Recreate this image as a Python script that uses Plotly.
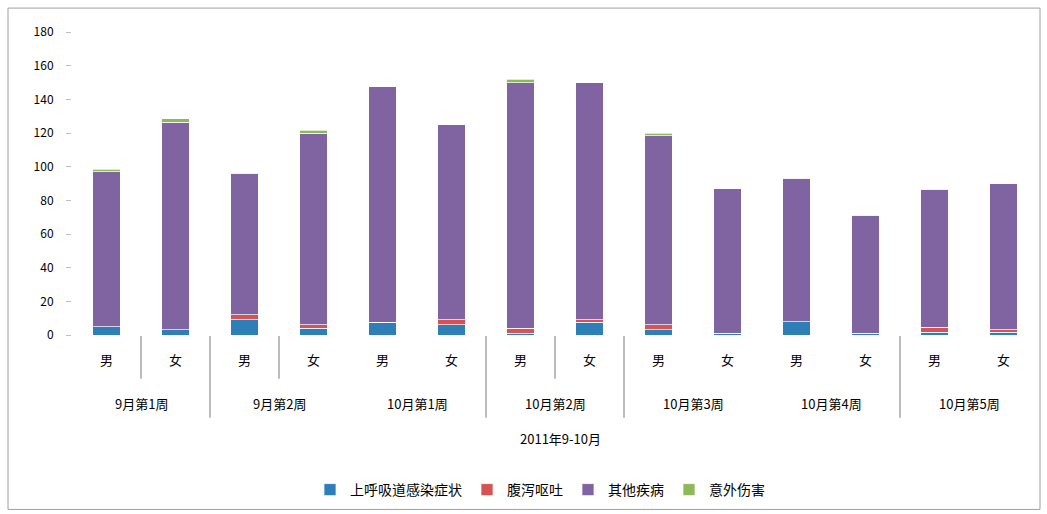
import plotly.graph_objects as go

groups = ["9月第1周", "9月第2周", "10月第1周", "10月第2周", "10月第3周", "10月第4周", "10月第5周"]
sexes = ["男", "女"]
series_names = ["上呼吸道感染症状", "腹泻呕吐", "其他疾病", "意外伤害"]
blue_vals = [5, 3, 9, 4, 7.5, 6, 1, 7.5, 3, 1, 8, 1, 1.5, 1.5]
red_vals = [0, 0, 3, 2, 0, 3, 3, 1.5, 3, 0, 0, 0, 3, 1.5]
purple_vals = [92, 123.5, 84, 114, 140, 116, 146, 141, 112.5, 86, 85, 70, 82, 87]
green_vals = [1.5, 2, 0, 1.5, 0, 0, 2, 0, 1.5, 0, 0, 0, 0, 0]
colors = ["#2E7EB8", "#D65353", "#8064A2", "#8DB95A"]
y_ticks = [0, 20, 40, 60, 80, 100, 120, 140, 160, 180]
x_title = "2011年9-10月"

n = len(groups) * len(sexes)
xs = list(range(n))
sub_labels = [s for g in groups for s in sexes]

FONT = "Noto Sans CJK SC, Noto Sans, sans-serif"
fig = go.Figure()
for name, vals, col in zip(series_names, [blue_vals, red_vals, purple_vals, green_vals], colors):
    fig.add_trace(go.Bar(
        x=xs, y=vals, name=name, width=0.4,
        marker=dict(color=col, line=dict(color="rgba(255,255,255,0.7)", width=1)),
    ))

W, H = 1047, 514
ml, mr, mt, mb = 72, 9, 32, 178
ph = H - mt - mb
pw = W - ml - mr

def py(pix):
    return (H - mb - pix) / ph

def px(pix):
    return (pix - ml) / pw

shapes = []
short_div = [0.5, 2.5, 6.5]
long_div = [1.5, 5.5, 7.5, 11.5]
for xv in short_div:
    shapes.append(dict(type="line", xref="x", yref="paper", x0=xv, x1=xv, y0=py(337), y1=py(380),
                       line=dict(color="#A6A6A6", width=1.5)))
for xv in long_div:
    shapes.append(dict(type="line", xref="x", yref="paper", x0=xv, x1=xv, y0=py(337), y1=py(419),
                       line=dict(color="#A6A6A6", width=1.5)))
shapes.append(dict(type="rect", xref="paper", yref="paper", x0=px(8), x1=px(1040), y0=py(511), y1=py(8),
                   line=dict(color="#A0A0A0", width=1), layer="below"))

annotations = []
for i, g in enumerate(groups):
    annotations.append(dict(x=2 * i + 0.5, y=py(405), xref="x", yref="paper", text=g, showarrow=False,
                            font=dict(size=13, color="#000000", family=FONT), yanchor="middle"))
annotations.append(dict(x=px(560), y=py(440), xref="paper", yref="paper", text=x_title, showarrow=False,
                        font=dict(size=13, color="#000000", family=FONT), yanchor="middle"))

fig.update_layout(
    width=W, height=H,
    margin=dict(l=ml, r=mr, t=mt, b=mb),
    barmode="stack",
    plot_bgcolor="white", paper_bgcolor="white",
    font=dict(family=FONT, size=12, color="#000000"),
    shapes=shapes,
    annotations=annotations,
    legend=dict(orientation="h", x=px(540), xanchor="center", y=py(490), yanchor="middle",
                font=dict(size=14, family=FONT), traceorder="normal", itemwidth=30),
    showlegend=True,
)
fig.update_xaxes(
    range=[-0.5, n - 0.5], tickmode="array", tickvals=xs, ticktext=sub_labels,
    showgrid=False, zeroline=False, showline=False, ticks="",
    tickfont=dict(size=13, family=FONT, color="#000000"), ticklabelstandoff=16,
)
fig.update_yaxes(
    range=[0, 180], tickmode="array", tickvals=y_ticks, showgrid=False, zeroline=False,
    showline=False, ticks="outside", ticklen=5, tickcolor="#BFBFBF",
    tickfont=dict(size=12, family=FONT, color="#000000"), ticklabelstandoff=10,
)

fig.write_html("out.html")
